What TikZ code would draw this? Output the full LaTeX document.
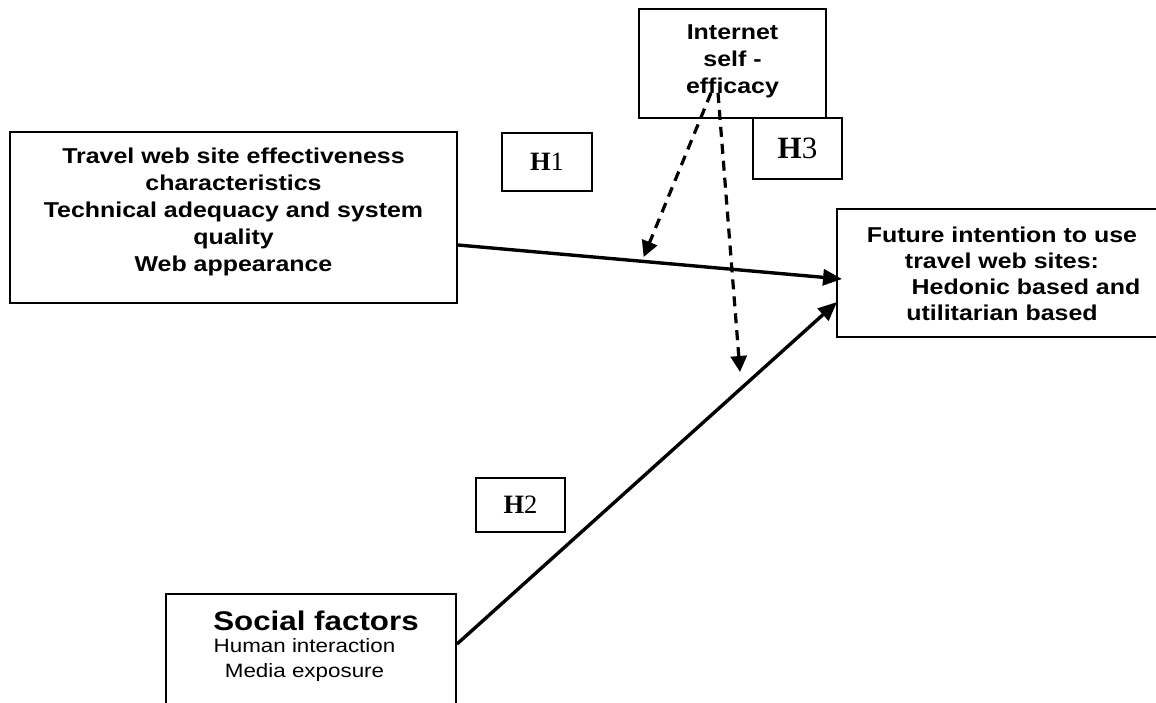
\documentclass[tikz,border=0pt]{standalone}
\usepackage{fontspec}
\setmainfont{Liberation Sans}[FakeStretch=1.16]
\newfontfamily\timesf{Liberation Serif}
\usetikzlibrary{arrows.meta,calc}

\tikzset{
 box/.style={draw, line width=1.9pt, rectangle, inner sep=0pt},
 boxtext/.style={inner sep=0pt, align=center, anchor=north, font=\fontsize{21.5}{27}\selectfont\bfseries},
 hyp/.style={box, font=\timesf\fontsize{26.5}{30}\selectfont},
 link/.style={line width=3.4pt, -{Triangle[length=19pt,width=16pt]}},
 moder/.style={line width=3.2pt, dash pattern=on 10pt off 7pt, -{Triangle[length=16pt,width=16pt]}},
}

\begin{document}
\begin{tikzpicture}[x=1pt,y=-1pt]
\useasboundingbox (0,0) rectangle (1156,702);
% boxes
\node[box, minimum width=447pt, minimum height=171pt] (travel) at (233.5,217.5) {};
\node[box, minimum width=187pt, minimum height=109pt] (internet) at (732.5,63.5) {};
\node[box, minimum width=333pt, minimum height=128pt] (future) at (1003.5,273) {};
\node[box, minimum width=290pt, minimum height=136pt] (social) at (311,662) {};
\node[hyp, minimum width=90pt, minimum height=58pt] (h1) at (547,162) {\textbf{H}1};
\node[hyp, minimum width=89pt, minimum height=54pt] (h2) at (520.5,505) {\textbf{H}2};
\node[hyp, font=\timesf\fontsize{31}{34}\selectfont, minimum width=89pt, minimum height=61pt] (h3) at (797.5,148.5) {\textbf{H}3};
% texts
\node[boxtext] (travel-t) at (233.5,148) {Travel web site effectiveness\\characteristics\\Technical adequacy and system\\quality\\Web appearance};
\node[boxtext] (internet-t) at (732.5,25) {Internet\\self -\\efficacy};
\node[boxtext, font=\fontsize{21.5}{26}\selectfont\bfseries] (future-t) at (1002,227) {Future intention to use\\travel web sites:\\\hspace*{48pt}Hedonic based and\\utilitarian based};
\node[boxtext, font=\fontsize{27}{30}\selectfont\bfseries] (social-t) at (316,611) {Social factors};
\node[boxtext, font=\fontsize{19.3}{25}\selectfont] (social-s) at (304.5,638.6) {Human interaction\\Media exposure};
% connectors
\coordinate (a1s) at ([yshift=-27.5pt]travel.east);
\coordinate (a1e) at ([xshift=6pt,yshift=-6pt]future.west);
\draw[link] (a1s) -- (a1e);
\coordinate (a2s) at ([yshift=-51pt]social.north east);
\coordinate (a2e) at ([xshift=1pt,yshift=-29pt]future.west);
\draw[link] (a2s) -- (a2e);
\coordinate (m1s) at ([xshift=-21.5pt,yshift=26pt]internet.south);
\coordinate (m2s) at ([xshift=-14.5pt,yshift=26pt]internet.south);
\coordinate (m1e) at ($(a1s)!0.486!(a1e)+(-1,-4.5)$);
\coordinate (m2e) at (740,372);
\draw[moder] (m1s) -- (m1e);
\draw[moder] (m2s) -- (m2e);
\end{tikzpicture}
\end{document}
